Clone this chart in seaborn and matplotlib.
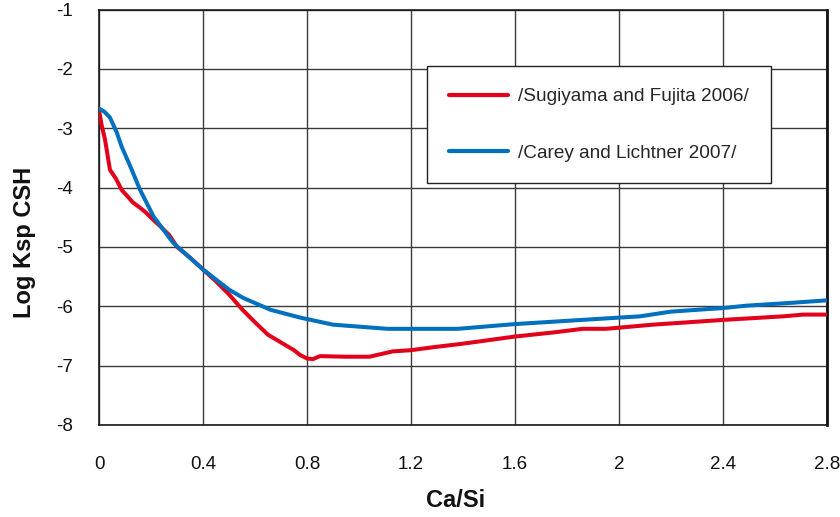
import matplotlib
matplotlib.use("Agg")
import matplotlib.pyplot as plt
import seaborn as sns
import pandas as pd

# Solubility product of C-S-H vs Ca/Si ratio, two literature models
sugiyama_x = [0.0, 0.01, 0.023, 0.042, 0.065, 0.087, 0.11, 0.13, 0.155, 0.18, 0.21,
              0.235, 0.27, 0.3, 0.35, 0.4, 0.45, 0.5, 0.55, 0.6, 0.65, 0.7, 0.75,
              0.773, 0.8, 0.823, 0.85, 0.95, 1.04, 1.13, 1.2, 1.285, 1.4, 1.6, 1.75,
              1.86, 1.95, 2.13, 2.4, 2.63, 2.71, 2.8]
sugiyama_y = [-2.70, -2.95, -3.19, -3.70, -3.85, -4.04, -4.15, -4.25, -4.33, -4.42, -4.55,
              -4.65, -4.80, -5.00, -5.18, -5.38, -5.58, -5.80, -6.05, -6.27, -6.48, -6.61, -6.74,
              -6.82, -6.88, -6.89, -6.84, -6.85, -6.85, -6.76, -6.74, -6.69, -6.63, -6.51, -6.44,
              -6.38, -6.38, -6.31, -6.23, -6.17, -6.14, -6.14]

carey_x = [0.0, 0.02, 0.042, 0.068, 0.087, 0.12, 0.158, 0.21, 0.285, 0.4, 0.5, 0.555,
           0.66, 0.773, 0.9, 1.11, 1.38, 1.6, 1.93, 2.08, 2.2, 2.4, 2.49, 2.67, 2.8]
carey_y = [-2.67, -2.72, -2.82, -3.07, -3.31, -3.64, -4.04, -4.49, -4.93, -5.38, -5.72, -5.86,
           -6.06, -6.19, -6.31, -6.38, -6.38, -6.30, -6.21, -6.17, -6.09, -6.03, -5.99, -5.94, -5.90]

series_names = ["/Sugiyama and Fujita 2006/", "/Carey and Lichtner 2007/"]
series_colors = ["#E3001B", "#0070BF"]

x_ticks = [0, 0.4, 0.8, 1.2, 1.6, 2, 2.4, 2.8]
x_tick_labels = ["0", "0.4", "0.8", "1.2", "1.6", "2", "2.4", "2.8"]
y_ticks = [-8, -7, -6, -5, -4, -3, -2, -1]

df = pd.concat([
    pd.DataFrame({"Ca/Si": sugiyama_x, "logK": sugiyama_y, "model": series_names[0]}),
    pd.DataFrame({"Ca/Si": carey_x, "logK": carey_y, "model": series_names[1]}),
], ignore_index=True)

sns.set_style("white")
plt.rcParams["font.family"] = ["Liberation Sans", "DejaVu Sans"]

fig = plt.figure(figsize=(8.4, 5.17), dpi=100)
ax = fig.add_axes([0.1179, 0.178, 0.8666, 0.8036])

sns.lineplot(data=df, x="Ca/Si", y="logK", hue="model", hue_order=series_names,
             palette=dict(zip(series_names, series_colors)), estimator=None, sort=False,
             linewidth=2.9, ax=ax, zorder=3)

ax.set_xlim(0, 2.8)
ax.set_ylim(-8, -1)
ax.set_xticks(x_ticks)
ax.set_xticklabels(x_tick_labels)
ax.set_yticks(y_ticks)
ax.set_yticklabels([str(v) for v in y_ticks])

ax.grid(True, color="#3a3a3a", linewidth=1.0)
ax.set_axisbelow(True)
for side in ["top", "left", "bottom"]:
    ax.spines[side].set_color("#1a1a1a")
    ax.spines[side].set_linewidth(1.2)
ax.spines["right"].set_color("#111111")
ax.spines["right"].set_linewidth(2.0)

ax.tick_params(axis="both", which="major", direction="out", length=8, width=1.0,
               color="#1a1a1a", labelsize=13.5, labelcolor="#111111")
ax.tick_params(axis="x", pad=14)
ax.tick_params(axis="y", pad=10.5)

ax.set_xlabel("Ca/Si", fontsize=17, fontweight="bold", color="#111111")
ax.set_ylabel("Log Ksp CSH", fontsize=17, fontweight="bold", color="#111111")
ax.xaxis.set_label_coords(0.49, -0.153)
ax.yaxis.set_label_coords(-0.087, 0.44)

leg = ax.legend(loc="upper left", bbox_to_anchor=(0.4505, 0.864), fontsize=13.7,
                frameon=True, fancybox=False, borderpad=1.15, labelspacing=2.05,
                handlelength=3.1, handletextpad=0.55, borderaxespad=0.0)
leg.get_frame().set_edgecolor("#222222")
leg.get_frame().set_linewidth(1.0)
leg.get_frame().set_alpha(1.0)
for line in leg.get_lines():
    line.set_linewidth(3.0)

fig.savefig("out.png", dpi=100)
